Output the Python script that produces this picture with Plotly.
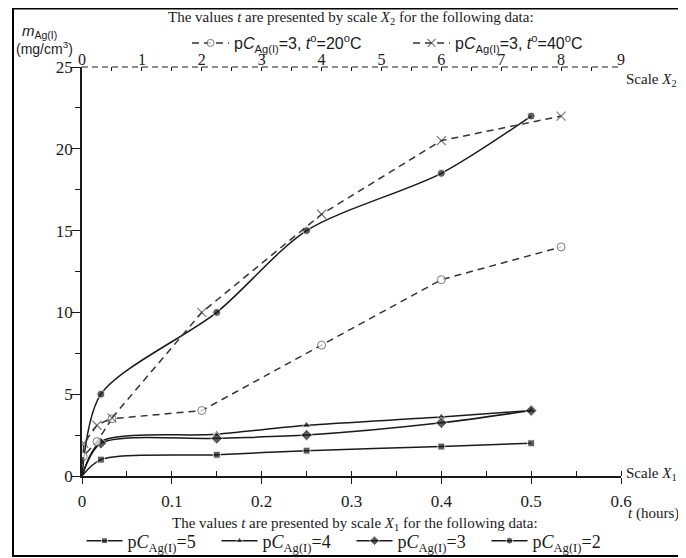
import plotly.graph_objects as go

# ---- data (scale X1, hours) ----
t_x1 = [0, 0.021, 0.15, 0.25, 0.4, 0.5]
pc5 = [0, 1.0, 1.3, 1.55, 1.8, 2.0]
pc4 = [0, 2.1, 2.55, 3.1, 3.6, 4.0]
pc3 = [0, 2.0, 2.3, 2.5, 3.25, 4.0]
pc2 = [0, 5.0, 10.0, 15.0, 18.5, 22.0]

# ---- data (scale X2, hours) ----
t20_x2 = [0, 0.02, 0.25, 0.5, 2, 4, 6, 8]
m20 = [0, 1.2, 2.1, 3.5, 4.0, 8.0, 12.0, 14.0]
t40_x2 = [0, 0.03, 0.25, 0.5, 2, 4, 6, 8]
m40 = [0, 2.0, 3.1, 3.55, 10.0, 16.0, 20.5, 22.0]

x1_ticks = [0, 0.1, 0.2, 0.3, 0.4, 0.5, 0.6]
x2_ticks = [0, 1, 2, 3, 4, 5, 6, 7, 8, 9]
y_ticks = [0, 5, 10, 15, 20, 25]

# page body has an 8px margin, so figure pixel = screen pixel - 8
OFF = 8
W, H = 686 - OFF, 558 - OFF
L, R, T, B = 82, 621, 67, 476  # plot area in screen pixels


def px(x):
    return (x - L) / (R - L)


def py(y):
    return (B - y) / (B - T)


SERIF = "Liberation Serif"
SANS = "Liberation Sans"
INK = "#1a1a1a"

fig = go.Figure()


def sizes(n, s):
    return [0] + [s] * (n - 1)


solid = [
    ("p<i>C</i><sub>Ag(I)</sub>=5", pc5, "square", 7),
    ("p<i>C</i><sub>Ag(I)</sub>=4", pc4, "triangle-up", 8),
    ("p<i>C</i><sub>Ag(I)</sub>=3", pc3, "diamond", 9),
    ("p<i>C</i><sub>Ag(I)</sub>=2", pc2, "circle", 8),
]
for name, ys, sym, s in solid:
    fig.add_trace(go.Scatter(
        x=t_x1, y=ys, name=name, mode="lines+markers",
        line=dict(color=INK, width=1.5, shape="spline", smoothing=0.8),
        marker=dict(symbol=sym, size=sizes(len(ys), s), color=INK),
        legend="legend2", xaxis="x", yaxis="y",
    ))

fig.add_trace(go.Scatter(
    x=t20_x2, y=m20, name="p<i>C</i><sub>Ag(I)</sub>=3, <i>t</i><sup>o</sup>=20<sup>o</sup>C",
    mode="lines+markers",
    line=dict(color="#333", width=1.5, dash="7px,5px"),
    marker=dict(symbol="circle", size=sizes(len(m20), 8), color="white",
                line=dict(width=1, color="#444")),
    legend="legend", xaxis="x2", yaxis="y",
))
fig.add_trace(go.Scatter(
    x=t40_x2, y=m40, name="p<i>C</i><sub>Ag(I)</sub>=3, <i>t</i><sup>o</sup>=40<sup>o</sup>C",
    mode="lines+markers",
    line=dict(color="#333", width=1.5, dash="7px,5px"),
    marker=dict(symbol="x-thin", size=sizes(len(m40), 9), color="#444",
                line=dict(width=1.2, color="#444")),
    legend="legend", xaxis="x2", yaxis="y",
))

fig.update_layout(
    width=W, height=H,
    margin=dict(l=L - OFF, r=W - (R - OFF), t=T - OFF, b=H - (B - OFF), pad=0,
                autoexpand=False),
    paper_bgcolor="white", plot_bgcolor="white",
    font=dict(family=SERIF, size=15, color=INK),
    xaxis=dict(
        range=[0, 0.6], tickvals=x1_ticks, ticktext=[str(v) for v in x1_ticks],
        showline=True, linecolor=INK, linewidth=1.5,
        ticks="outside", ticklen=6, tickwidth=1.2, tickcolor=INK,
        minor=dict(dtick=0.05, ticks="inside", ticklen=5, tickwidth=1.2, tickcolor=INK),
        showgrid=False, zeroline=False, tickfont=dict(family=SERIF, size=17),
        ticklabelstandoff=3,
    ),
    xaxis2=dict(
        range=[0, 9], overlaying="x", side="top", anchor="y",
        tickvals=x2_ticks, ticktext=[str(v) for v in x2_ticks],
        showline=False, ticks="inside", ticklen=4, tickwidth=1, tickcolor=INK,
        minor=dict(dtick=0.5, ticks="inside", ticklen=4, tickwidth=1, tickcolor=INK),
        showgrid=False, zeroline=False, tickfont=dict(family=SERIF, size=16),
        ticklabelstandoff=-2,
    ),
    yaxis=dict(
        range=[0, 25], tickvals=y_ticks, ticktext=[str(v) for v in y_ticks],
        showline=True, linecolor=INK, linewidth=1.5,
        ticks="outside", ticklen=9, tickwidth=1.2, tickcolor=INK,
        minor=dict(dtick=2.5, ticks="outside", ticklen=5, tickwidth=1.2, tickcolor=INK),
        showgrid=False, zeroline=False, tickfont=dict(family=SERIF, size=17),
        ticklabelstandoff=-5,
    ),
    legend=dict(
        orientation="h", x=px(187), y=py(43), xanchor="left", yanchor="middle",
        font=dict(family=SANS, size=16), bgcolor="rgba(0,0,0,0)",
        itemwidth=37, entrywidth=169, entrywidthmode="pixels", itemclick=False,
    ),
    legend2=dict(
        orientation="h", x=px(81.5), y=py(541), xanchor="left", yanchor="middle",
        font=dict(family=SERIF, size=18), bgcolor="rgba(0,0,0,0)",
        itemwidth=36, entrywidth=84, entrywidthmode="pixels", itemclick=False,
    ),
    showlegend=True,
)

# dashed top axis line and outer frame
fig.add_shape(type="line", xref="paper", yref="paper", x0=0, x1=1, y0=1, y1=1,
              line=dict(color=INK, width=1.2, dash="6px,4px"))
fig.add_shape(type="rect", xref="paper", yref="paper",
              x0=px(13), x1=px(684), y0=py(556), y1=py(OFF + 0.5),
              line=dict(color="black", width=2))

ann = [
    ("The values <i>t</i> are presented by scale <i>X</i><sub>2</sub> for the following data:",
     px(351), py(18), "center", SERIF, 15),
    ("The values <i>t</i> are presented by scale <i>X</i><sub>1</sub> for the following data:",
     px(355), py(524), "center", SERIF, 15),
    ("<i>m</i><sub>Ag(I)</sub>", px(20), py(31), "left", SANS, 15),
    ("(mg/cm<sup>3</sup>)", px(14), py(48), "left", SANS, 14),
    ("Scale <i>X</i><sub>2</sub>", px(624), py(80), "left", SERIF, 15),
    ("Scale <i>X</i><sub>1</sub>", px(624), py(474), "left", SERIF, 15),
    ("<i>t</i> (hours)", px(681), py(513), "right", SERIF, 15),
]
for text, x, y, xa, fam, sz in ann:
    fig.add_annotation(text=text, x=x, y=y, xref="paper", yref="paper",
                       xanchor=xa, yanchor="middle", showarrow=False,
                       font=dict(family=fam, size=sz, color=INK))

fig.write_html("out.html")
